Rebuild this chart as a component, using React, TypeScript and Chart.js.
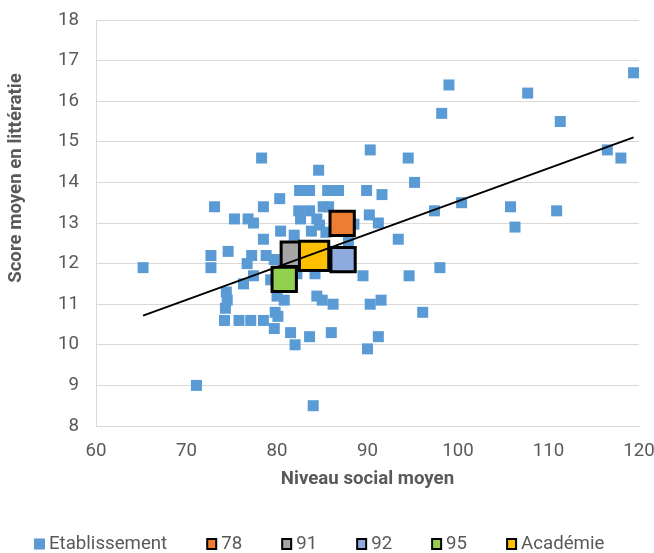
import React, { useEffect, useRef } from "react";
import { Chart, registerables } from "chart.js";

Chart.register(...registerables);

// ---- Data ----
const etabNiveau = [
  65.2, 71.1, 72.7, 72.7, 73.1, 74.6, 74.4, 74.5, 74.3, 74.2,
  75.3, 75.8, 76.3, 76.7, 76.8, 77.1, 77.2, 77.4, 77.4, 78.3,
  78.5, 78.5, 78.5, 78.8, 79.3, 79.7, 79.7, 79.8, 80.0, 80.1,
  80.3, 80.4, 80.8, 81.5, 81.9, 82.0, 82.2, 82.4, 82.5, 82.6,
  83.6, 83.6, 83.6, 83.8, 84.0, 84.2, 84.4, 84.4, 84.6, 84.7,
  85.0, 85.1, 85.4, 85.6, 85.7, 86.0, 86.2, 86.8, 87.9, 88.5,
  89.5, 89.9, 90.0, 90.2, 90.3, 90.3, 91.2, 91.2, 91.5, 91.6,
  93.4, 94.5, 94.6, 95.2, 96.1, 97.4, 98.0, 98.2, 99.0, 100.4,
  105.8, 106.3, 107.7, 110.9, 111.3, 116.5, 118.0, 119.4,
];
const etabScore = [
  11.9, 9.0, 12.2, 11.9, 13.4, 12.3, 11.3, 11.1, 10.9, 10.6,
  13.1, 10.6, 11.5, 12.0, 13.1, 10.6, 12.2, 13.0, 11.7, 14.6,
  13.4, 12.6, 10.6, 12.2, 11.6, 12.1, 10.4, 10.8, 11.2, 10.7,
  13.6, 12.8, 11.1, 10.3, 12.7, 10.0, 11.75, 13.3, 13.8, 13.1,
  13.8, 13.3, 10.2, 12.8, 8.5, 11.75, 11.2, 13.1, 14.3, 12.95,
  11.1, 13.4, 12.77, 13.8, 13.4, 10.3, 11.0, 13.8, 12.55, 12.97,
  11.7, 13.8, 9.9, 13.2, 14.8, 11.0, 13.0, 10.2, 11.1, 13.7,
  12.6, 14.6, 11.7, 14.0, 10.8, 13.3, 11.9, 15.7, 16.4, 13.5,
  13.4, 12.9, 16.2, 13.3, 15.5, 14.8, 14.6, 16.7,
];

const groupLabels = ["78", "91", "92", "95", "Académie"];
const groupNiveau = [87.2, 81.8, 87.3, 80.8, 84.1];
const groupScore = [12.99, 12.23, 12.1, 11.61, 12.19];

const trendNiveau = [65.2, 119.4];
const trendScore = [10.72, 15.11];

const xTicks = [60, 70, 80, 90, 100, 110, 120];
const yTicks = [8, 9, 10, 11, 12, 13, 14, 15, 16, 17, 18];

const etabLabel = "Etablissement";
const xTitle = "Niveau social moyen";
const yTitle = "Score moyen en littératie";

// ---- Styles ----
const FONT = "Roboto";
const FS = 18.67;
const TEXT = "#595959";
const GRID = "#d9d9d9";
const ETAB_COLOR = "#5B9BD5";
const GROUP_COLORS = ["#ED7D31", "#A5A5A5", "#8FAADC", "#92D050", "#FFC000"];
const GROUP_RADIUS = [17.2, 17.2, 17.2, 17.2, 20.7];

const overlayPlugin = {
  id: "overlay",
  afterDraw(chart: any) {
    const ctx = chart.ctx as CanvasRenderingContext2D;
    const { left, right } = chart.chartArea;
    ctx.save();
    ctx.fillStyle = TEXT;
    ctx.font = `bold ${FS}px ${FONT}`;
    ctx.textAlign = "center";
    ctx.textBaseline = "middle";
    ctx.fillText(xTitle, (left + right) / 2, 479);
    ctx.save();
    ctx.translate(16, 178);
    ctx.rotate(-Math.PI / 2);
    ctx.fillText(yTitle, 0, 0);
    ctx.restore();

    // legend
    ctx.font = `${FS}px ${FONT}`;
    ctx.textAlign = "left";
    const items = [
      { text: etabLabel, color: ETAB_COLOR, border: false },
      ...groupLabels.map((l, i) => ({ text: l, color: GROUP_COLORS[i], border: true })),
    ];
    let x = 34;
    const y = 544;
    for (const it of items) {
      if (it.border) {
        ctx.fillStyle = it.color;
        ctx.fillRect(x + 1, y - 5, 9, 10);
        ctx.strokeStyle = "#000";
        ctx.lineWidth = 2;
        ctx.strokeRect(x + 1, y - 5, 9, 10);
      } else {
        ctx.fillStyle = it.color;
        ctx.fillRect(x, y - 5.5, 11, 11);
      }
      ctx.fillStyle = TEXT;
      const tx = x + 15;
      ctx.fillText(it.text, tx, y);
      x = tx + ctx.measureText(it.text).width + 39;
    }
    ctx.restore();
  },
};

export default function App() {
  const ref = useRef<HTMLCanvasElement>(null);

  useEffect(() => {
    if (!ref.current) return;
    const datasets: any[] = [
      {
        type: "line",
        label: "trend",
        data: trendNiveau.map((x, i) => ({ x, y: trendScore[i] })),
        borderColor: "#000",
        borderWidth: 2,
        pointRadius: 0,
        fill: false,
        order: 0,
      },
    ];
    groupLabels.forEach((l, i) => {
      datasets.push({
        type: "scatter",
        label: l,
        data: [{ x: groupNiveau[i], y: groupScore[i] }],
        backgroundColor: GROUP_COLORS[i],
        borderColor: "#000",
        borderWidth: 3,
        pointStyle: "rect",
        pointRadius: GROUP_RADIUS[i],
        order: groupLabels.length - i,
      });
    });
    datasets.push({
      type: "scatter",
      label: etabLabel,
      data: etabNiveau.map((x, i) => ({ x, y: etabScore[i] })),
      backgroundColor: ETAB_COLOR,
      borderWidth: 0,
      pointStyle: "rect",
      pointRadius: 7.78,
      order: 10,
    });

    const chart = new Chart(ref.current, {
      type: "scatter",
      data: { datasets },
      options: {
        animation: false,
        responsive: false,
        devicePixelRatio: 1,
        layout: { autoPadding: false, padding: { top: 20, right: 15, left: 0, bottom: 0 } },
        plugins: {
          legend: { display: false },
          tooltip: { enabled: false },
        },
        scales: {
          x: {
            type: "linear",
            min: 60,
            max: 120,
            afterBuildTicks: (s: any) => {
              s.ticks = xTicks.map((v) => ({ value: v }));
            },
            afterFit: (s: any) => {
              s.height = 127;
              s.paddingLeft = 0;
              s.paddingRight = 0;
            },
            grid: { display: false },
            border: { display: true, color: GRID, width: 1 },
            ticks: {
              color: TEXT,
              font: { family: FONT, size: FS },
              padding: 6,
              maxRotation: 0,
            },
          },
          y: {
            type: "linear",
            min: 8,
            max: 18,
            afterBuildTicks: (s: any) => {
              s.ticks = yTicks.map((v) => ({ value: v }));
            },
            afterFit: (s: any) => {
              s.width = 96;
              s.paddingTop = 0;
              s.paddingBottom = 0;
            },
            grid: { color: GRID, lineWidth: 1, drawTicks: false },
            border: { display: true, color: GRID, width: 1 },
            ticks: {
              color: TEXT,
              font: { family: FONT, size: FS },
              padding: 17,
            },
          },
        },
      },
      plugins: [overlayPlugin],
    });
    return () => chart.destroy();
  }, []);

  return (
    <div style={{ position: "fixed", left: 0, top: 0, width: 654, height: 553, background: "#fff" }}>
      <canvas ref={ref} width={654} height={553} />
    </div>
  );
}
